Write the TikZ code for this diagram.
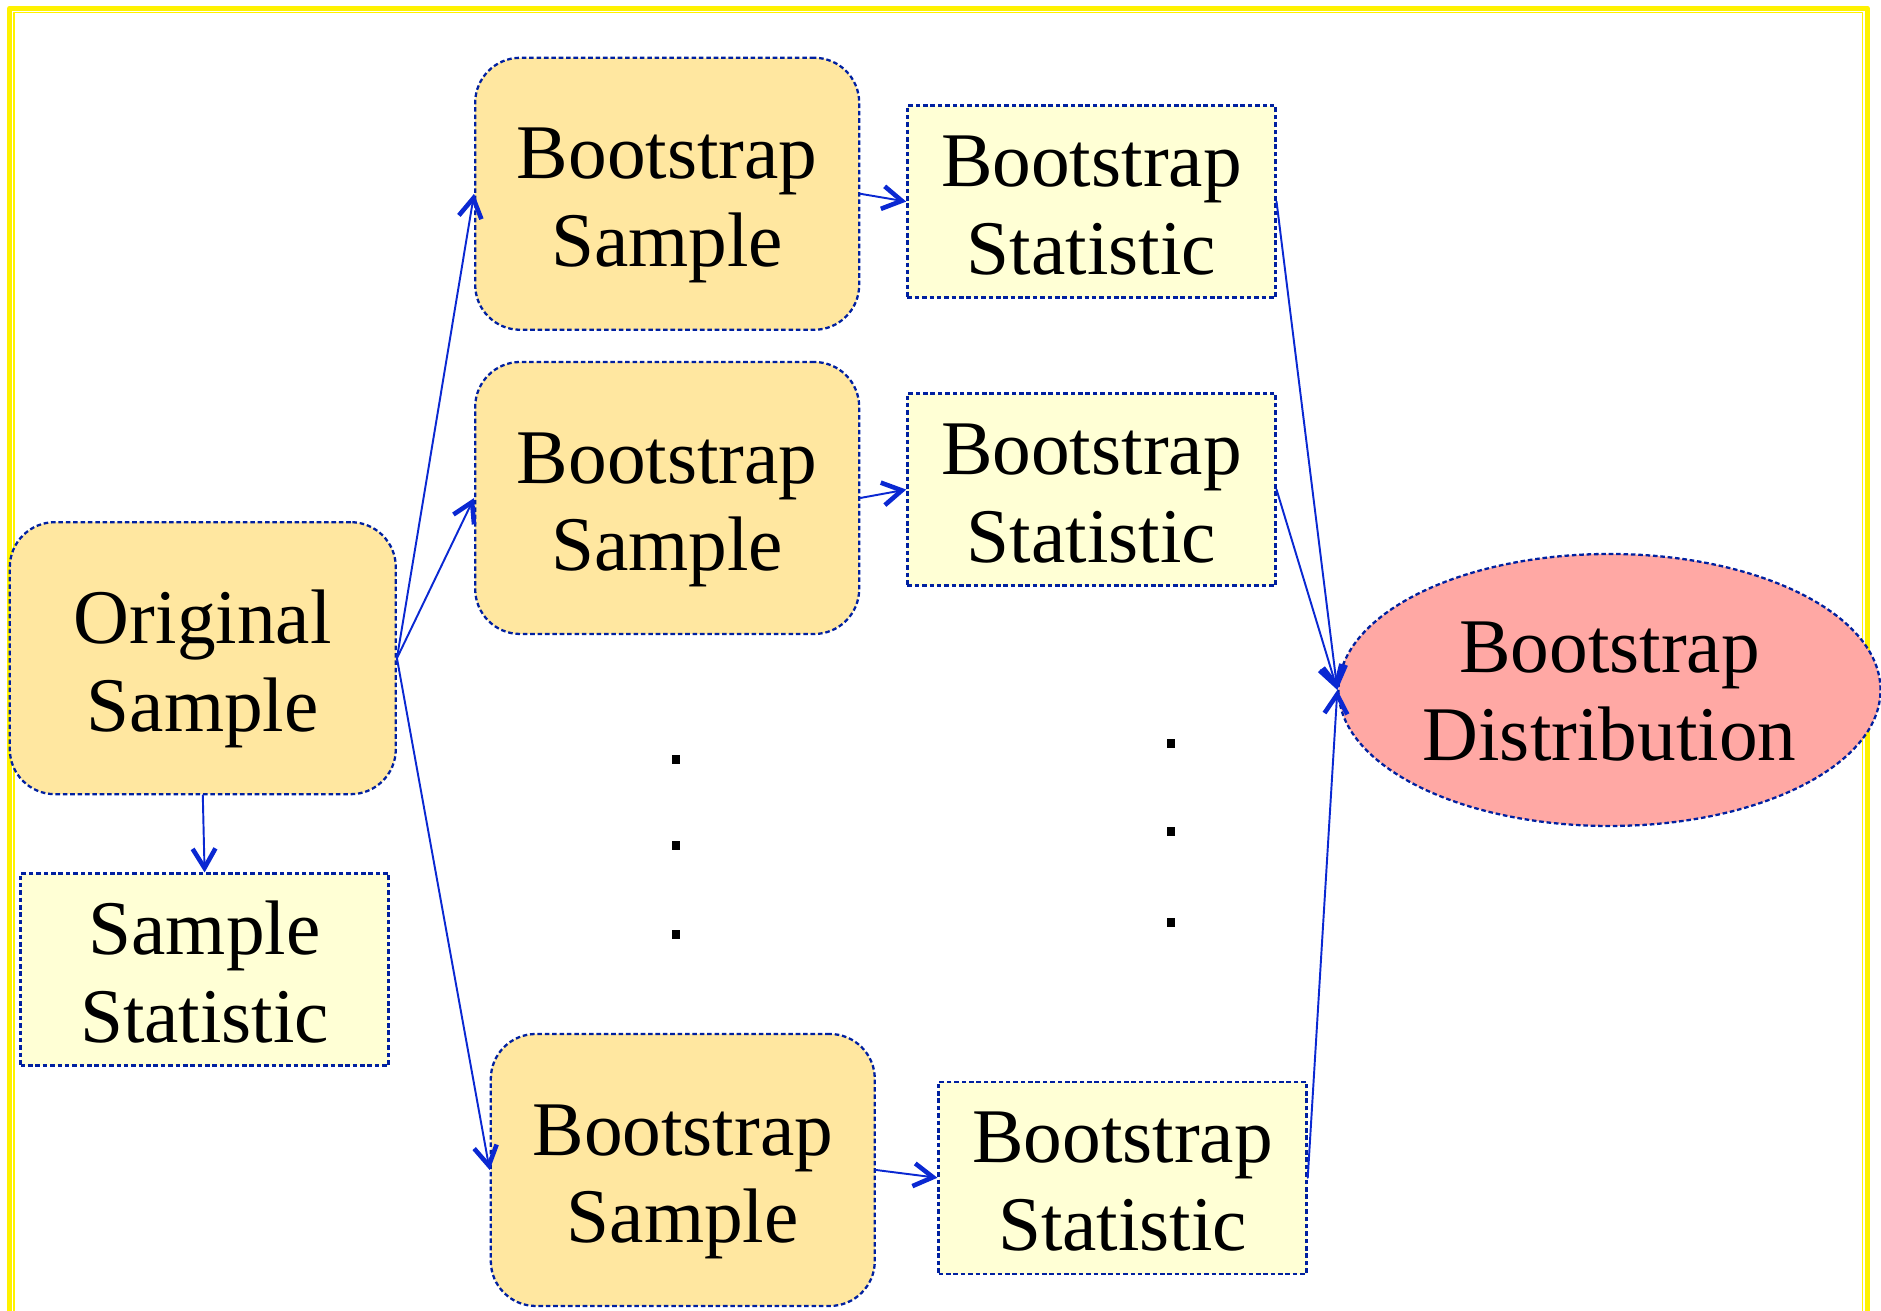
\documentclass[tikz,border=0pt]{standalone}
\usepackage{fontspec}
\setmainfont{Liberation Serif}
\usetikzlibrary{arrows.meta,shapes.geometric}
\definecolor{edgeblue}{RGB}{0,32,160}
\definecolor{arrowblue}{RGB}{10,40,210}
\definecolor{samplefill}{RGB}{255,231,160}
\definecolor{statfill}{RGB}{255,255,213}
\definecolor{distfill}{RGB}{255,168,164}

\begin{document}
\begin{tikzpicture}[line cap=round,line join=round,x=1cm,y=1cm,
    box/.style={draw=edgeblue,line width=0.65pt,line cap=butt,dash pattern=on 1.3pt off 0.8pt,
      align=center,inner sep=0pt,font=\fontsize{22}{25}\selectfont,text height=41.5pt,text depth=0pt},
    sample/.style={box,fill=samplefill,rounded corners=0.45cm,minimum width=3.84cm,minimum height=2.72cm},
    stat/.style={box,fill=statfill,minimum width=3.68cm,minimum height=1.92cm},
    dist/.style={box,ellipse,fill=distfill,minimum width=5.42cm,minimum height=2.72cm,text height=40pt},
    dots/.style={fill=black,inner sep=0pt,minimum width=0.08cm,minimum height=0.09cm},
    conn/.style={color=arrowblue,line width=0.55pt,
      -{Straight Barb[length=5.5pt,width=6.5pt,line width=1.3pt]}}]
            \clip (0,0) rectangle (18.81,13.11);
            % double yellow frame, open at the bottom
            \draw [yellow,line width=0.05cm] (0.0965,-1) rectangle (18.673,13.028);
            \draw [yellow,line width=0.015cm] (0.142,-1) rectangle (18.627,12.983);
            % original sample and its statistic
            \node [sample,minimum width=3.86cm] (orig) at (2.028,6.528) {Original\\Sample};
            \node [stat] (samstat) at (2.046,3.414) {Sample\\Statistic};
            % resamples
            \node [sample] (boot1) at (6.672,11.172) {Bootstrap\\Sample};
            \node [sample] (boot2) at (6.672,8.13) {Bootstrap\\Sample};
            \node [sample] (boot3) at (6.828,1.41) {Bootstrap\\Sample};
            \node [stat] (bstat1) at (10.914,11.094) {Bootstrap\\Statistic};
            \node [stat] (bstat2) at (10.914,8.214) {Bootstrap\\Statistic};
            \node [stat] (bstat3) at (11.226,1.332) {Bootstrap\\Statistic};
            \node [dist] (bdist) at (16.095,6.21) {Bootstrap\\Distribution};
            % vertical dots between the rows
            \node [dots] (gap1a) at (6.76,5.515) {};
            \node [dots] (gap1b) at (6.76,4.65) {};
            \node [dots] (gap1c) at (6.76,3.76) {};
            \node [dots] (gap2a) at (11.71,5.67) {};
            \node [dots] (gap2b) at (11.71,4.79) {};
            \node [dots] (gap2c) at (11.71,3.88) {};
            % connectors
            \draw [conn] (orig.south) -- (samstat.north);
            \draw [conn] (orig.east) -- (boot1.west);
            \draw [conn] (orig.east) -- (boot2.west);
            \draw [conn] (orig.east) -- (boot3.west);
            \draw [conn] (boot1.east) -- (bstat1.west);
            \draw [conn] (boot2.east) -- (bstat2.west);
            \draw [conn] (boot3.east) -- (bstat3.west);
            \draw [conn] (bstat1.east) -- (bdist.west);
            \draw [conn] (bstat2.east) -- (bdist.west);
            \draw [conn] (bstat3.east) -- (bdist.west);
        \end{tikzpicture}
\end{document}
